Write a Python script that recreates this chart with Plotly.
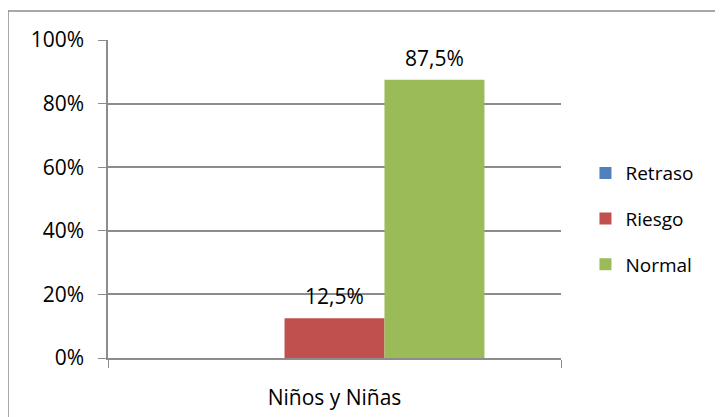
import plotly.graph_objs as go

# data
categoria = ["Niños y Niñas"]
series = ["Retraso", "Riesgo", "Normal"]
valores = [0.0, 0.125, 0.875]
etiquetas = ["", "12,5%", "87,5%"]
colores = ["#4F81BD", "#C0504D", "#9BBB59"]

fuente = "Open Sans, Lato, sans-serif"
gris = "#8C8C8C"

# plot area size in px (used for label offsets)
ancho_plot = 453
alto_plot = 318
bargap = 0.338
ancho_barra = ancho_plot * (1 - bargap) / len(series)

fig = go.Figure()
for i, (nombre, v, c) in enumerate(zip(series, valores, colores)):
    fig.add_trace(go.Bar(
        name=nombre,
        x=categoria,
        y=[v],
        marker=dict(color=c, line=dict(width=0)),
        legendgroup=nombre,
        hoverinfo="skip",
    ))
    if etiquetas[i]:
        fig.add_annotation(
            x=categoria[0], y=v, xref="x", yref="y",
            text=etiquetas[i], showarrow=False,
            xshift=(i - 1) * ancho_barra, yshift=22,
            yanchor="middle",
            font=dict(size=21, color="#000000", family=fuente),
        )

# the page adds 8px of body margin, so margins are 8px smaller
fig.update_layout(
    width=723,
    height=417,
    barmode="group",
    bargap=bargap,
    bargroupgap=0,
    plot_bgcolor="white",
    paper_bgcolor="white",
    font=dict(family=fuente, size=21, color="#000000"),
    margin=dict(l=100, r=723 - 100 - ancho_plot, t=32, b=417 - 32 - alto_plot),
    legend=dict(
        x=1.054,
        y=0.437,
        xanchor="left",
        yanchor="middle",
        traceorder="grouped",
        tracegroupgap=18,
        font=dict(size=19),
        itemwidth=30,
    ),
)

fig.update_yaxes(
    range=[0, 1],
    tickvals=[0, 0.2, 0.4, 0.6, 0.8, 1.0],
    ticktext=["0%", "20%", "40%", "60%", "80%", "100%"],
    showgrid=True,
    gridcolor=gris,
    gridwidth=1.5,
    showline=True,
    linecolor=gris,
    linewidth=1.5,
    ticks="outside",
    ticklen=8,
    tickcolor=gris,
    ticklabelstandoff=10,
    zeroline=False,
)
fig.update_xaxes(
    showline=True,
    linecolor=gris,
    linewidth=1.5,
    ticks="outside",
    tickson="boundaries",
    ticklen=8,
    tickcolor=gris,
    ticklabelstandoff=20,
    showgrid=False,
)

# chart border (left and top edges visible, right/bottom fall outside)
fig.add_shape(
    type="rect", xref="paper", yref="paper",
    x0=-100 / ancho_plot, x1=1.4, y0=-0.3, y1=(alto_plot + 29) / alto_plot,
    line=dict(color=gris, width=1.5), layer="below",
)

fig.write_html("out.html")
